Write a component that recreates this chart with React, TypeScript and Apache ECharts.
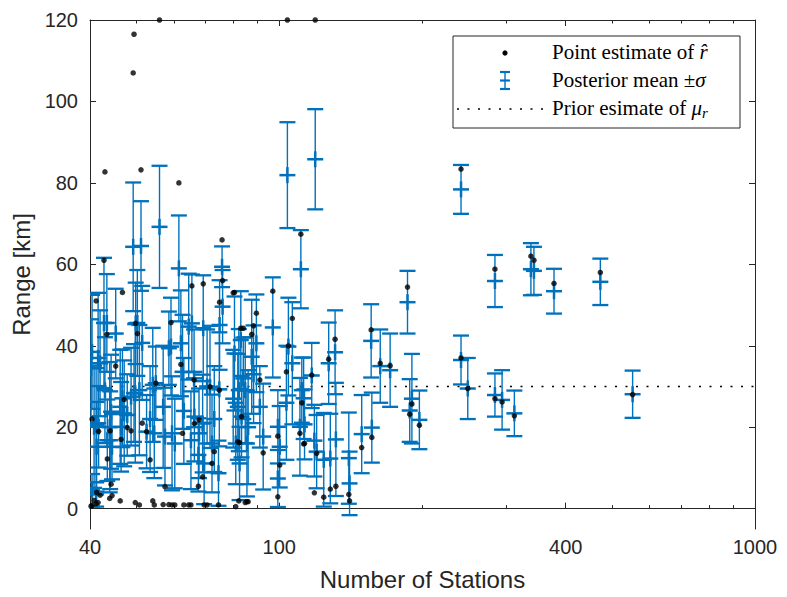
import React, { useEffect, useRef } from "react";
import * as echarts from "echarts";

// Number of stations for each event (x)
const stations = [
  40.2, 40.4, 41.2, 40.4, 40.8, 41.2, 41.6, 42.0, 41.3, 41.7, 42.8, 43.0, 43.5, 44.3, 44.5, 44.1,
  45.3, 46.3, 46.8, 47.2, 47.9, 46.5, 43.4, 44.0,
  49.3, 49.5, 51.2, 50.3, 48.8, 49.8, 50.8, 51.5, 52.6, 49.9,
  56.0, 54.2, 54.6, 57.5, 55.0, 57.0, 53.5,
  61.5, 59.2, 62.1, 62.6, 60.3, 58.6, 59.5, 63.0,
  65.5, 64.5, 65.2, 66.2, 66.3, 67.8, 69.0, 67.6, 69.2, 69.5, 70.5,
  71.5, 74.8, 72.2, 74.5, 75.8, 76.0, 74.9, 73.0,
  80.5, 83.0, 81.0, 81.8, 82.2, 84.8, 83.3, 85.5, 82.5, 80.0, 84.0, 86.0,
  87.5, 89.5, 88.3, 96.9, 92.5, 91.0, 99.3, 100.2, 99.3,
  104, 106.5, 104.5, 103.5, 111.5, 112.5, 110.5, 111, 113,
  119, 117, 127, 131, 128, 124, 131.5, 118.5, 119.8, 140, 140.5, 156, 149, 156.5, 163, 171,
  186, 190, 188, 197, 241, 241, 249, 284, 284, 294, 312, 338, 343, 378, 473, 553,
];

// Point estimate of r-hat (km)
const pointEstimate = [
  0.6, 0.8, 1.2, 22, 2.0, 51, 1.5, 3.3, 4.0, 19, 61, 82.7, 12.2, 6.0, 3.2, 19.1,
  35, 1.9, 53.1, 26.8, 19.9, 17, 42.8, 2.5,
  107, 116.5, 83.2, 43, 19.1, 1.5, 0.9, 21, 18.9, 45.5,
  120, 1.9, 0.9, 5.4, 30.8, 1.0, 12,
  80, 45.7, 35.4, 18.5, 0.9, 1.0, 0.9, 0.9,
  54.7, 0.9, 0.9, 31.6, 20.9, 21.8, 7.8, 5.5, 55.2, 0.9, 0.9,
  29.9, 29.1, 11.1, 0.9, 66, 56, 50.7, 14,
  53.1, 44.3, 0.5, 16.4, 1.9, 1.5, 22.6, 1.7, 16.2, 53, 44.3, 1.7,
  42.8, 48, 44.9, 53.4, 13.7, 31.6, 17.8, 10.7, 2.9,
  120, 46.7, 40, 33.6, 26, 15.9, 18.5, 67.4, 16,
  120, 32.8, 36.7, 41.6, 4.8, 2.8, 5.5, 3.9, 13.6, 3.5, 1.9, 43.9, 15, 17.5, 35.7, 35.1,
  54.4, 25.7, 23.2, 20.5, 83.4, 37.0, 29.5, 58.8, 27.0, 26.2, 22.8, 62, 61, 55.3, 58, 28,
];

// Posterior mean (km)
const posteriorMean = [
  34.5, 4.5, 3.5, 38.5, 20.1, 20.5, 37, 35.7, 15.2, 20.1, 45.6, 29.1, 16.8, 23.8, 15.2, 16.8,
  43, 25, 27.1, 23.4, 23, 20.1, 45.6, 20,
  64.3, 28.4, 64.5, 45.6, 27.5, 28.3, 29.1, 40.7, 18.9, 45.5,
  69.2, 30.4, 18.5, 17.7, 30.8, 25, 22,
  59, 39.8, 40.6, 33.6, 16, 39.4, 18.5, 24,
  45.5, 44.7, 16.8, 32, 22.6, 18.5, 20.9, 13.2, 44.3, 11.1, 30,
  29.9, 29.3, 16, 8.7, 59.4, 49.6, 45.1, 22,
  38.1, 41.4, 16, 25, 29.1, 29.1, 22.6, 16, 11.1, 27, 32, 20,
  37.3, 40.6, 33, 44.5, 17.7, 25, 20.1, 15.2, 7.4,
  81.9, 35.7, 39.8, 26, 29.1, 27.1, 20.1, 58.8, 20.7,
  85.8, 32.7, 35.7, 38.4, 12.3, 12, 17, 16.7, 14, 12.4, 6.2, 41.2, 18.3, 19.9, 35, 34,
  50.7, 27, 24.1, 21.8, 78.4, 36.5, 29.5, 55.9, 27.9, 26.7, 23.4, 58.8, 58.4, 53.4, 55.7, 28.1,
];

// Posterior standard deviation (km)
const posteriorSigma = [
  12, 4.0, 3.0, 14, 15, 14, 16, 13, 11, 10, 16, 13, 10, 14, 8, 12,
  11, 14, 12, 13, 10, 11, 12, 16,
  15.8, 12, 11, 13, 12, 17, 16, 14, 9, 10,
  15, 14, 11, 12, 9, 15, 13,
  13, 12, 13, 14, 11, 9, 14, 13,
  12, 13, 12, 12, 11, 11, 12, 9, 13, 10, 14,
  15, 14, 12, 8, 5, 9, 11, 13,
  14, 12, 10, 13, 15, 13, 10, 13, 9, 12, 10, 14,
  14, 12, 12, 12.3, 13, 10, 9, 10, 7,
  13, 15, 12, 14, 8, 10, 12, 9.6, 8.6,
  12.3, 8, 10, 10.3, 11, 11.5, 13.9, 8.8, 9, 11.2, 7.8, 9, 9.6, 8.6, 9, 9,
  7.7, 11, 7.7, 7.2, 6.0, 6.0, 7.5, 6.4, 5.3, 7.3, 5.6, 6.4, 5.9, 5.5, 5.7, 5.8,
];

const priorMu = 30;
const xMajorTicks = [40, 100, 400, 1000];
const xMinorTicks = [50, 60, 70, 80, 90, 200, 300, 500, 600, 700, 800, 900];
const yTicks = [0, 20, 40, 60, 80, 100, 120];
const xRange = [40, 1000];
const yRange = [-5, 120];

const BLUE = "#0072BD";
const AXIS = "#262626";
const SANS = '"Liberation Sans", Arial, Helvetica, sans-serif';
const SERIF = '"Liberation Serif", "Times New Roman", serif';

const lg = (v: number) => Math.log10(v);

export default function App() {
  const ref = useRef<HTMLDivElement>(null);

  useEffect(() => {
    if (!ref.current) return;
    const chart = echarts.init(ref.current, undefined, { renderer: "svg" });

    const xMin = lg(xRange[0]);
    const xMax = lg(xRange[1]);
    const majorX = xMajorTicks.map(lg);
    const minorX = xMinorTicks.map(lg);

    const baseX = {
      type: "value" as const,
      min: xMin,
      max: xMax,
      splitLine: { show: false },
    };

    const errData = stations.map((s, i) => [lg(s), posteriorMean[i], posteriorSigma[i]]);
    const ptData = stations.map((s, i) => [lg(s), pointEstimate[i]]);

    const legendText = (size: number) => ({
      fontFamily: SERIF,
      fontSize: size,
      fill: "#000000",
      verticalAlign: "middle",
    });

    const option: any = {
      animation: false,
      backgroundColor: "#ffffff",
      grid: { left: 90, right: 32, top: 20, bottom: 68, containLabel: false },
      xAxis: [
        {
          ...baseX,
          position: "bottom",
          axisLine: { show: true, lineStyle: { color: AXIS, width: 1 } },
          axisTick: { show: true, inside: true, length: 6, customValues: majorX, lineStyle: { color: AXIS } },
          axisLabel: {
            show: true,
            customValues: majorX,
            formatter: (v: number) => String(Math.round(Math.pow(10, v))),
            color: AXIS,
            fontFamily: SANS,
            fontSize: 20,
            margin: 8,
          },
          name: "Number of Stations",
          nameLocation: "middle",
          nameGap: 38,
          nameTextStyle: { color: AXIS, fontFamily: SANS, fontSize: 24 },
        },
        {
          ...baseX,
          position: "bottom",
          axisLine: { show: false },
          axisTick: { show: true, inside: true, length: 3.5, customValues: minorX, lineStyle: { color: AXIS } },
          axisLabel: { show: false },
        },
        {
          ...baseX,
          position: "top",
          axisLine: { show: true, lineStyle: { color: AXIS, width: 1 } },
          axisTick: { show: true, inside: true, length: 6, customValues: majorX, lineStyle: { color: AXIS } },
          axisLabel: { show: false },
        },
        {
          ...baseX,
          position: "top",
          axisLine: { show: false },
          axisTick: { show: true, inside: true, length: 3.5, customValues: minorX, lineStyle: { color: AXIS } },
          axisLabel: { show: false },
        },
      ],
      yAxis: [
        {
          type: "value",
          min: yRange[0],
          max: yRange[1],
          position: "left",
          splitLine: { show: false },
          axisLine: { show: true, lineStyle: { color: AXIS, width: 1 } },
          axisTick: { show: true, inside: true, length: 6, customValues: yTicks, lineStyle: { color: AXIS } },
          axisLabel: {
            show: true,
            customValues: yTicks,
            color: AXIS,
            fontFamily: SANS,
            fontSize: 20,
            margin: 12,
          },
          name: "Range [km]",
          nameLocation: "middle",
          nameGap: 51,
          nameRotate: 90,
          nameTextStyle: { color: AXIS, fontFamily: SANS, fontSize: 24 },
        },
        {
          type: "value",
          min: yRange[0],
          max: yRange[1],
          position: "right",
          splitLine: { show: false },
          axisLine: { show: true, lineStyle: { color: AXIS, width: 1 } },
          axisTick: { show: true, inside: true, length: 6, customValues: yTicks, lineStyle: { color: AXIS } },
          axisLabel: { show: false },
        },
      ],
      series: [
        {
          type: "line",
          xAxisIndex: 0,
          yAxisIndex: 0,
          data: [
            [xMin, priorMu],
            [xMax, priorMu],
          ],
          symbol: "none",
          silent: true,
          lineStyle: { color: "#000000", width: 1.4, type: [2, 8.5] },
          z: 1,
        },
        {
          type: "custom",
          xAxisIndex: 0,
          yAxisIndex: 0,
          data: errData,
          encode: { x: 0, y: 1 },
          clip: true,
          z: 2,
          renderItem: (params: any, api: any) => {
            const x = api.value(0);
            const m = api.value(1);
            const sd = api.value(2);
            const top = api.coord([x, m + sd]);
            const bot = api.coord([x, m - sd]);
            const mid = api.coord([x, m]);
            const hw = 8;
            return {
              type: "group",
              children: [
                {
                  type: "line",
                  shape: { x1: top[0], y1: top[1], x2: bot[0], y2: bot[1] },
                  style: { stroke: BLUE, lineWidth: 1.4 },
                },
                {
                  type: "line",
                  shape: { x1: top[0] - hw, y1: top[1], x2: top[0] + hw, y2: top[1] },
                  style: { stroke: BLUE, lineWidth: 2.3 },
                },
                {
                  type: "line",
                  shape: { x1: bot[0] - hw, y1: bot[1], x2: bot[0] + hw, y2: bot[1] },
                  style: { stroke: BLUE, lineWidth: 2.3 },
                },
                {
                  type: "line",
                  shape: { x1: mid[0] - hw, y1: mid[1], x2: mid[0] + hw, y2: mid[1] },
                  style: { stroke: BLUE, lineWidth: 2.5 },
                },
                {
                  type: "line",
                  shape: { x1: mid[0], y1: mid[1] - 8, x2: mid[0], y2: mid[1] + 8 },
                  style: { stroke: BLUE, lineWidth: 2.5 },
                },
              ],
            };
          },
        },
        {
          type: "scatter",
          xAxisIndex: 0,
          yAxisIndex: 0,
          data: ptData,
          symbol: "circle",
          symbolSize: 5.5,
          itemStyle: { color: "#000000" },
          z: 3,
        },
      ],
      graphic: [
        {
          type: "group",
          z: 100,
          children: [
            {
              type: "rect",
              shape: { x: 453, y: 36, width: 287, height: 92 },
              style: { fill: "#ffffff", stroke: AXIS, lineWidth: 1 },
            },
            { type: "circle", shape: { cx: 505, cy: 53, r: 2.6 }, style: { fill: "#000000" } },
            { type: "line", shape: { x1: 505, y1: 72, x2: 505, y2: 89 }, style: { stroke: BLUE, lineWidth: 1.4 } },
            { type: "line", shape: { x1: 500, y1: 72, x2: 510, y2: 72 }, style: { stroke: BLUE, lineWidth: 2.2 } },
            { type: "line", shape: { x1: 500, y1: 89, x2: 510, y2: 89 }, style: { stroke: BLUE, lineWidth: 2.2 } },
            { type: "line", shape: { x1: 500, y1: 80.5, x2: 510, y2: 80.5 }, style: { stroke: BLUE, lineWidth: 2.2 } },
            {
              type: "line",
              shape: { x1: 457, y1: 109, x2: 545, y2: 109 },
              style: { stroke: "#000000", lineWidth: 1.4, lineDash: [2, 8.5] },
            },
            {
              type: "text",
              x: 552,
              y: 52,
              style: {
                text: "Point estimate of {i|r\u0302}",
                rich: { i: { fontStyle: "italic", fontFamily: SERIF, fontSize: 21, fill: "#000" } },
                ...legendText(21),
              },
            },
            {
              type: "text",
              x: 552,
              y: 80,
              style: {
                text: "Posterior mean \u00b1{i|\u03c3}",
                rich: { i: { fontStyle: "italic", fontFamily: SERIF, fontSize: 21, fill: "#000" } },
                ...legendText(21),
              },
            },
            {
              type: "text",
              x: 552,
              y: 108,
              style: {
                text: "Prior esimate of {i|\u03bc}{s|r}",
                rich: {
                  i: { fontStyle: "italic", fontFamily: SERIF, fontSize: 21, fill: "#000" },
                  s: { fontStyle: "italic", fontFamily: SERIF, fontSize: 15, fill: "#000", padding: [10, 0, 0, 0] },
                },
                ...legendText(21),
              },
            },
          ],
        },
      ],
    };

    chart.setOption(option);
    return () => chart.dispose();
  }, []);

  return (
    <div
      ref={ref}
      style={{ position: "fixed", left: 0, top: 0, width: 787, height: 597, background: "#ffffff" }}
    />
  );
}
